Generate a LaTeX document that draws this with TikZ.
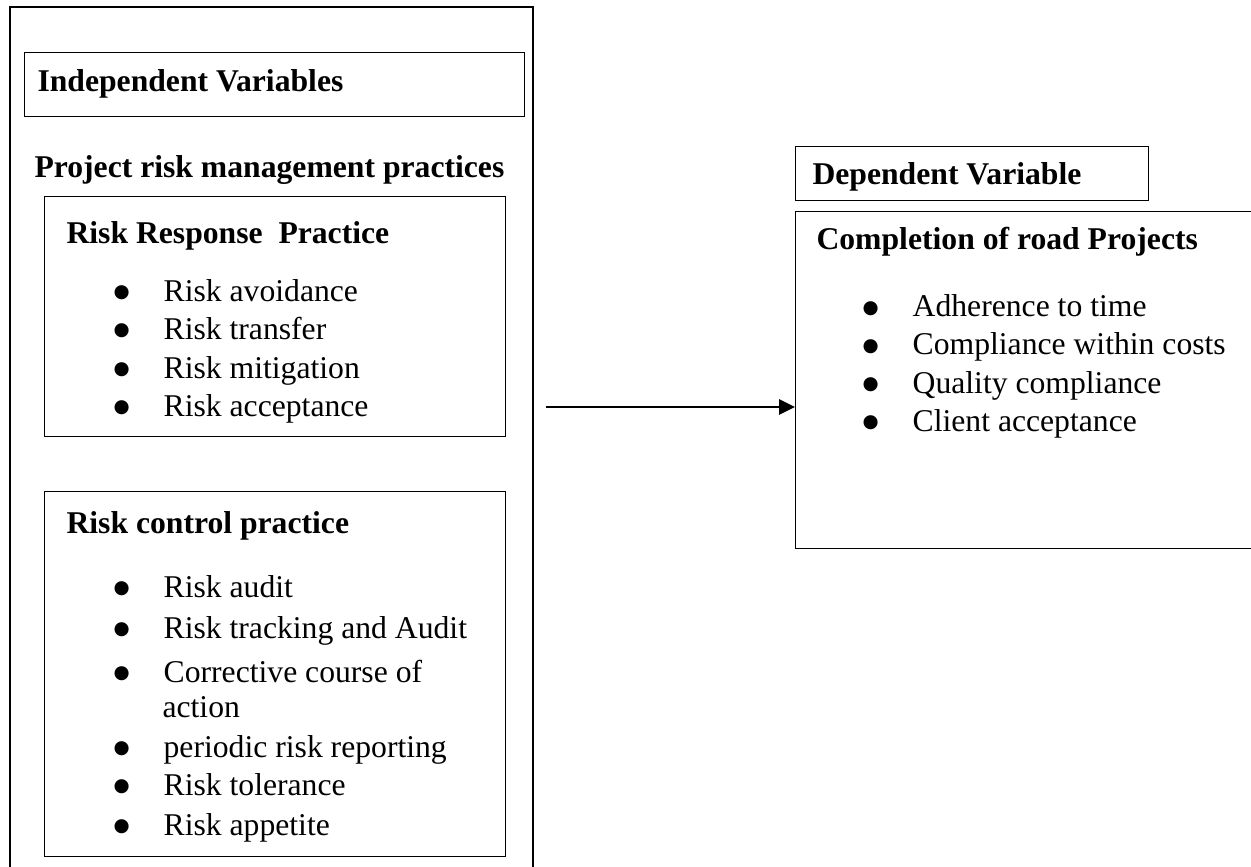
\documentclass[tikz,border=0pt,12pt]{standalone}
\usepackage{fontspec}
\setmainfont{Liberation Serif}
\newfontfamily\dotfont{DejaVu Sans}
\usetikzlibrary{arrows.meta}

\newcommand{\pxu}{0.379pt}
\newcommand{\bul}{\makebox[19pt][l]{\raisebox{1.5pt}{\dotfont\fontsize{7}{7}\selectfont ●}}}

\begin{document}
\begin{tikzpicture}[x=0.379pt,y=-0.379pt,>={Triangle[length=6pt,width=5.6pt]},
    box/.style={draw,line width=0.55pt,rectangle,inner sep=0pt,anchor=north west},
    head/.style={anchor=base west,inner sep=0pt,font=\bfseries},
    item/.style={anchor=base west,inner sep=0pt}]
    \useasboundingbox (0,0) rectangle (1251,867);
    \clip (0,0) rectangle (1251,867);

    % independent variables
    \draw[line width=0.8pt] (10,867) |- (533,7) -- (533,867);
    \node[box,minimum width=500*\pxu,minimum height=64*\pxu] (indep) at (24,52) {};
    \node[head] (indeplbl) at (37,92) {Independent Variables};
    \node[head] (prm) at (34,178) {Project risk management practices};

    \node[box,minimum width=461*\pxu,minimum height=240*\pxu] (response) at (44,196) {};
    \node[head] (responselbl) at (66,244) {Risk Response~ Practice};
    \node[item] (r1) at (113,301) {\bul Risk avoidance};
    \node[item] (r2) at (113,339) {\bul Risk transfer};
    \node[item] (r3) at (113,378) {\bul Risk mitigation};
    \node[item] (r4) at (113,416) {\bul Risk acceptance};

    \node[box,minimum width=461*\pxu,minimum height=365*\pxu] (control) at (44,491) {};
    \node[head] (controllbl) at (66,533) {Risk control practice};
    \node[item] (c1) at (113,597) {\bul Risk audit};
    \node[item] (c2) at (113,638) {\bul Risk tracking and Audit};
    \node[item] (c3) at (113,682) {\bul Corrective course of};
    \node[item] (c3b) at (162,717) {action};
    \node[item] (c4) at (113,757) {\bul periodic risk reporting};
    \node[item] (c5) at (113,795) {\bul Risk tolerance};
    \node[item] (c6) at (113,835) {\bul Risk appetite};

    % dependent variable
    \node[box,minimum width=353*\pxu,minimum height=54*\pxu] (dep) at (795,146) {};
    \node[head] (deplbl) at (812,185) {Dependent Variable};
    \node[box,minimum width=600*\pxu,minimum height=337*\pxu] (done) at (795,211) {};
    \node[head] (donelbl) at (816,250) {Completion of road Projects};
    \node[item] (d1) at (862,317) {\bul Adherence to time};
    \node[item] (d2) at (862,355) {\bul Compliance within costs};
    \node[item] (d3) at (862,393) {\bul Quality compliance};
    \node[item] (d4) at (862,431) {\bul Client acceptance};

    \coordinate (src) at (546,407);
    \draw[->,line width=1.1pt] (src) -- (src -| done.west);
\end{tikzpicture}
\end{document}
